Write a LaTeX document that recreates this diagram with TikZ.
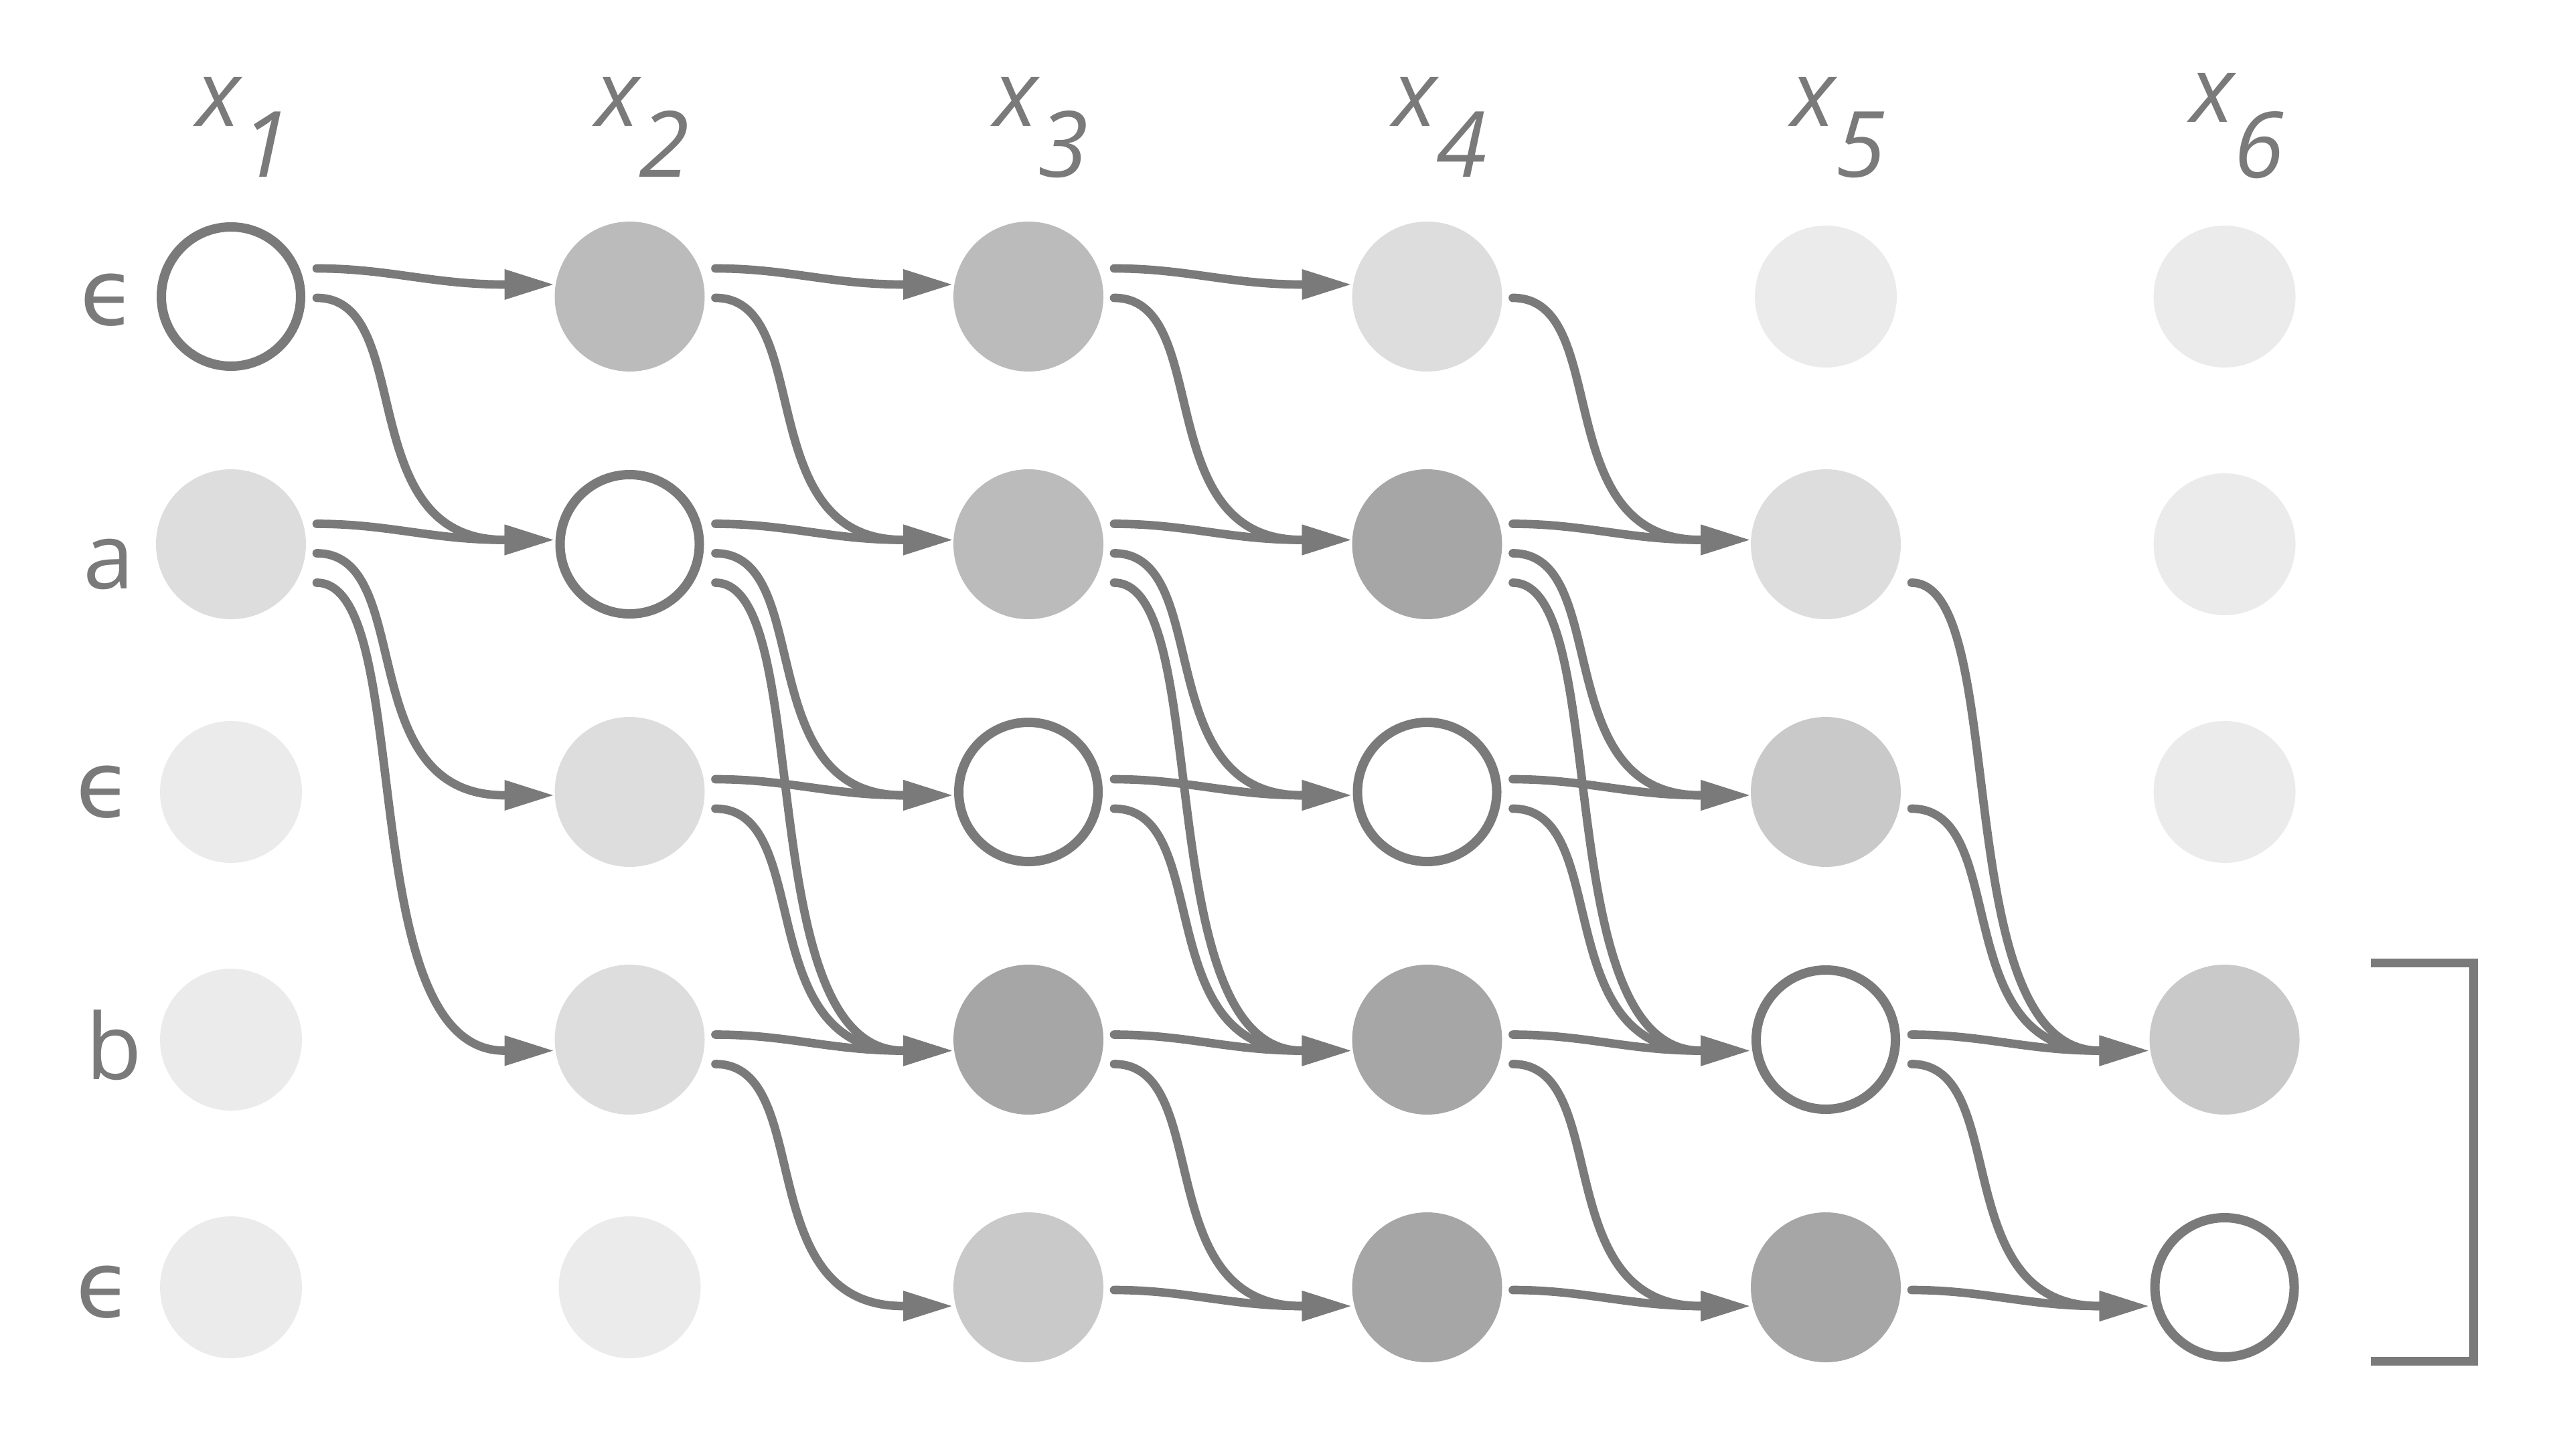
\documentclass[tikz,border=0pt]{standalone}
\usepackage{fontspec}
\setmainfont{Open Sans}
\newfontfamily\greekfont{DejaVu Sans}
\usetikzlibrary{arrows.meta}

\definecolor{ink}{HTML}{7A7A7A}
\definecolor{tone1}{HTML}{EBEBEB}
\definecolor{tone2}{HTML}{DDDDDD}
\definecolor{tone3}{HTML}{C9C9C9}
\definecolor{tone4}{HTML}{BBBBBB}
\definecolor{tone5}{HTML}{A6A6A6}

\newdimen\pxu \pxu=0.0041667cm

\tikzset{
  dot/.style={circle, inner sep=0pt, minimum size=0.9333cm},
  faint/.style={dot, fill=tone1, minimum size=0.8833cm},
  cur/.style={circle, inner sep=0pt, minimum size=0.8667cm, draw=ink, fill=white, line width=1.66pt},
  lab/.style={text=ink, inner sep=0pt, font=\fontsize{16.2pt}{20pt}\selectfont},
  link/.style={draw=ink, line width=1.5pt, line cap=round, -{Triangle[length=0.3125cm, width=0.175cm]}},
  hop/.style 2 args={link, to path={
      ([xshift=0.5333cm, yshift={-((#1-3)*11.5-19+44*#2)*\pxu}]\tikztostart.center)
      .. controls +({0.45cm+0.175cm*min(#2,1)},0) and +({-0.45cm-0.5083cm*min(#2,1)},0) ..
      ([xshift=-0.7792cm, yshift={-((#1+#2-3)*11.5+5)*\pxu}]\tikztotarget.center)
      -- ([xshift=-0.4667cm, yshift={-((#1+#2-3)*11.5+5)*\pxu}]\tikztotarget.center)}},
  brk/.style={draw=ink, line width=1.54pt}
}

\begin{document}
\begin{tikzpicture}[x=2.48125cm, y=-1.541667cm]

        \useasboundingbox (0.420655,-0.197297) rectangle (6.869017,5.678378);

        % columns
        \node[cur]              (n11) at (1,1) {};
        \node[dot, fill=tone2]  (n12) at (1,2) {};
        \node[faint]            (n13) at (1,3) {};
        \node[faint]            (n14) at (1,4) {};
        \node[faint]            (n15) at (1,5) {};

        \node[dot, fill=tone4]  (n21) at (2,1) {};
        \node[cur]              (n22) at (2,2) {};
        \node[dot, fill=tone2]  (n23) at (2,3) {};
        \node[dot, fill=tone2]  (n24) at (2,4) {};
        \node[faint]            (n25) at (2,5) {};

        \node[dot, fill=tone4]  (n31) at (3,1) {};
        \node[dot, fill=tone4]  (n32) at (3,2) {};
        \node[cur]              (n33) at (3,3) {};
        \node[dot, fill=tone5]  (n34) at (3,4) {};
        \node[dot, fill=tone3]  (n35) at (3,5) {};

        \node[dot, fill=tone2]  (n41) at (4,1) {};
        \node[dot, fill=tone5]  (n42) at (4,2) {};
        \node[cur]              (n43) at (4,3) {};
        \node[dot, fill=tone5]  (n44) at (4,4) {};
        \node[dot, fill=tone5]  (n45) at (4,5) {};

        \node[faint]            (n51) at (5,1) {};
        \node[dot, fill=tone2]  (n52) at (5,2) {};
        \node[dot, fill=tone3]  (n53) at (5,3) {};
        \node[cur]              (n54) at (5,4) {};
        \node[dot, fill=tone5]  (n55) at (5,5) {};

        \node[faint]            (n61) at (6,1) {};
        \node[faint]            (n62) at (6,2) {};
        \node[faint]            (n63) at (6,3) {};
        \node[dot, fill=tone3]  (n64) at (6,4) {};
        \node[cur]              (n65) at (6,5) {};

        % labels
        \begin{scope}[every node/.style={lab, anchor=base west}]
          \node (lx1) at (0.9110,0.3135) {\textit{x\lower0.3167cm\hbox{1}}};
          \node (lx2) at (1.9110,0.3135) {\textit{x\lower0.3167cm\hbox{2}}};
          \node (lx3) at (2.9110,0.3135) {\textit{x\lower0.3167cm\hbox{3}}};
          \node (lx4) at (3.9110,0.3135) {\textit{x\lower0.3167cm\hbox{4}}};
          \node (lx5) at (4.9110,0.3135) {\textit{x\lower0.3167cm\hbox{5}}};
          \node (lx6) at (5.9110,0.2973) {\textit{x\lower0.3417cm\hbox{6}}};
        \end{scope}

        \begin{scope}[every node/.style={lab, anchor=base}]
          \node (le1) at (0.6927,1.1162) {\greekfont ϵ};
          \node (la)  at (0.6935,2.1784) {a};
          \node (le3) at (0.6826,3.1022) {\greekfont ϵ};
          \node (lb)  at (0.7061,4.1603) {b};
          \node (le5) at (0.6826,5.1211) {\greekfont ϵ};
        \end{scope}

        % x1 -> x2
        \path (n11) edge[hop={1}{0}] (n21);
        \path (n11) edge[hop={1}{1}] (n22);
        \path (n12) edge[hop={2}{0}] (n22);
        \path (n12) edge[hop={2}{1}] (n23);
        \path (n12) edge[hop={2}{2}] (n24);

        % x2 -> x3
        \path (n21) edge[hop={1}{0}] (n31);
        \path (n21) edge[hop={1}{1}] (n32);
        \path (n22) edge[hop={2}{0}] (n32);
        \path (n22) edge[hop={2}{1}] (n33);
        \path (n22) edge[hop={2}{2}] (n34);
        \path (n23) edge[hop={3}{0}] (n33);
        \path (n23) edge[hop={3}{1}] (n34);
        \path (n24) edge[hop={4}{0}] (n34);
        \path (n24) edge[hop={4}{1}] (n35);

        % x3 -> x4
        \path (n31) edge[hop={1}{0}] (n41);
        \path (n31) edge[hop={1}{1}] (n42);
        \path (n32) edge[hop={2}{0}] (n42);
        \path (n32) edge[hop={2}{1}] (n43);
        \path (n32) edge[hop={2}{2}] (n44);
        \path (n33) edge[hop={3}{0}] (n43);
        \path (n33) edge[hop={3}{1}] (n44);
        \path (n34) edge[hop={4}{0}] (n44);
        \path (n34) edge[hop={4}{1}] (n45);
        \path (n35) edge[hop={5}{0}] (n45);

        % x4 -> x5
        \path (n41) edge[hop={1}{1}] (n52);
        \path (n42) edge[hop={2}{0}] (n52);
        \path (n42) edge[hop={2}{1}] (n53);
        \path (n42) edge[hop={2}{2}] (n54);
        \path (n43) edge[hop={3}{0}] (n53);
        \path (n43) edge[hop={3}{1}] (n54);
        \path (n44) edge[hop={4}{0}] (n54);
        \path (n44) edge[hop={4}{1}] (n55);
        \path (n45) edge[hop={5}{0}] (n55);

        % x5 -> x6
        \path (n52) edge[hop={2}{2}] (n64);
        \path (n53) edge[hop={3}{1}] (n64);
        \path (n54) edge[hop={4}{0}] (n64);
        \path (n54) edge[hop={4}{1}] (n65);
        \path (n55) edge[hop={5}{0}] (n65);

        % bracket
        \draw[brk] (6.36692,3.68919) -- (6.62384,3.68919) -- (6.62384,5.29730) -- (6.36692,5.29730);

\end{tikzpicture}
\end{document}
